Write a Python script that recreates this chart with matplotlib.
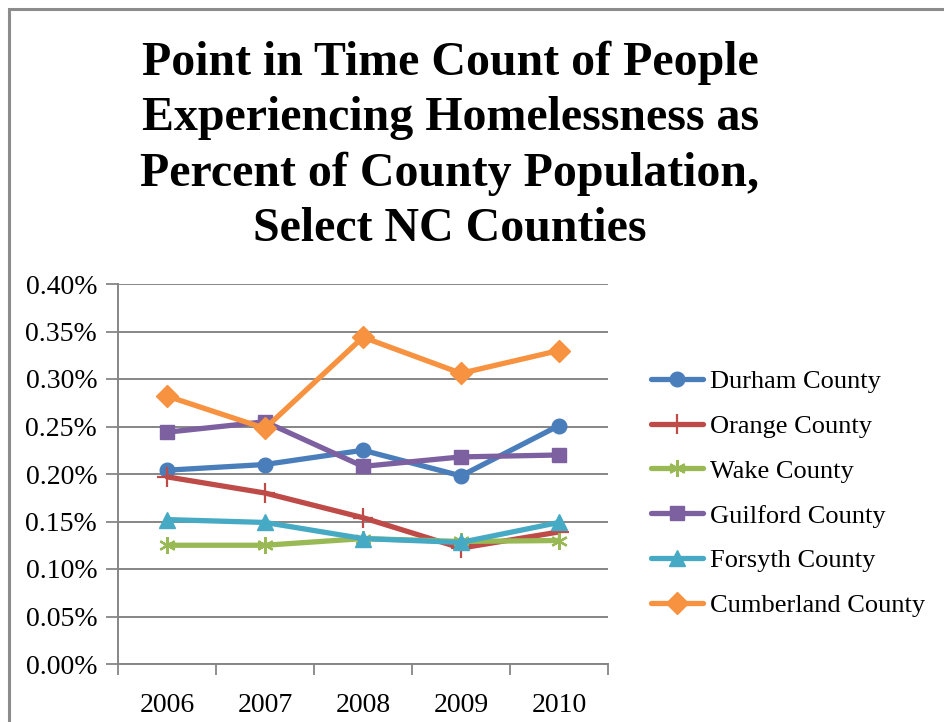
import matplotlib
matplotlib.use("Agg")
import matplotlib.pyplot as plt
from matplotlib.patches import Rectangle
from matplotlib.ticker import FuncFormatter, FixedLocator

years = ["2006", "2007", "2008", "2009", "2010"]
durham = [0.204, 0.210, 0.225, 0.198, 0.251]
orange = [0.197, 0.180, 0.154, 0.122, 0.139]
wake = [0.125, 0.125, 0.132, 0.129, 0.130]
guilford = [0.244, 0.255, 0.208, 0.218, 0.220]
forsyth = [0.152, 0.149, 0.132, 0.128, 0.149]
cumberland = [0.282, 0.248, 0.344, 0.306, 0.330]

series = [
    ("Durham County", durham, "#4A7EBB", "o", 10.5, 1.0),
    ("Orange County", orange, "#BE4B48", "+", 14, 1.6),
    ("Wake County", wake, "#98B954", (6, 2, 0), 12, 1.6),
    ("Guilford County", guilford, "#7D60A0", "s", 10, 1.0),
    ("Forsyth County", forsyth, "#46AAC5", "^", 11, 1.0),
    ("Cumberland County", cumberland, "#F69240", "D", 11, 1.0),
]

plt.rcParams["font.family"] = ["Liberation Serif", "DejaVu Serif"]

W, H = 944, 722
fig = plt.figure(figsize=(W / 100, H / 100), dpi=100)

# outer chart border
fig.patches.append(Rectangle((9 / W, -0.05), 1.0, 1 - 9 / H + 0.05,
                             transform=fig.transFigure, fill=False,
                             edgecolor="#8C8C8C", linewidth=2.2, zorder=0))

ax = fig.add_axes([118 / W, 1 - 664 / H, 490 / W, 380 / H])
x = list(range(len(years)))
handles = []
for name, vals, col, mk, ms, mew in series:
    h, = ax.plot(x, vals, color=col, linewidth=3.8, marker=mk, markersize=ms,
                 markerfacecolor=col, markeredgecolor=col, markeredgewidth=mew,
                 label=name, solid_capstyle="round", solid_joinstyle="round", zorder=3)
    handles.append(h)

ax.set_xlim(-0.5, len(years) - 0.5)
ax.set_ylim(0, 0.40)
yt = [0.0, 0.05, 0.10, 0.15, 0.20, 0.25, 0.30, 0.35, 0.40]
ax.set_yticks(yt)
ax.yaxis.set_major_formatter(FuncFormatter(lambda v, p: f"{v:.2f}%"))
ax.xaxis.set_major_locator(FixedLocator([i - 0.5 for i in range(len(years) + 1)]))
ax.xaxis.set_major_formatter(FuncFormatter(lambda v, p: ""))
ax.set_xticks(x, minor=True)
ax.set_xticklabels(years, minor=True)
ax.tick_params(axis="x", which="major", length=8, width=1.3, color="#868686", direction="out")
ax.tick_params(axis="x", which="minor", length=0, pad=21, labelsize=20)
ax.tick_params(axis="y", length=9, width=1.3, color="#868686", direction="out", pad=6, labelsize=20)
ax.yaxis.grid(True, color="#868686", linewidth=1.4)
ax.set_axisbelow(True)
for s in ["top", "right"]:
    ax.spines[s].set_visible(False)
for s in ["left", "bottom"]:
    ax.spines[s].set_color("#868686")
    ax.spines[s].set_linewidth(1.4)

fig.text(450 / W, 1 - 146 / H,
         "Point in Time Count of People\nExperiencing Homelessness as\nPercent of County Population,\nSelect NC Counties",
         ha="center", va="center", fontsize=34.5, fontweight="bold", linespacing=1.33)

leg = fig.legend(handles=handles, loc="upper left", bbox_to_anchor=(640 / W, 1 - 359 / H),
                 frameon=False, fontsize=19, handlelength=2.0, handletextpad=0.25,
                 labelspacing=0.81, borderaxespad=0)

fig.savefig("out.png", dpi=100)
